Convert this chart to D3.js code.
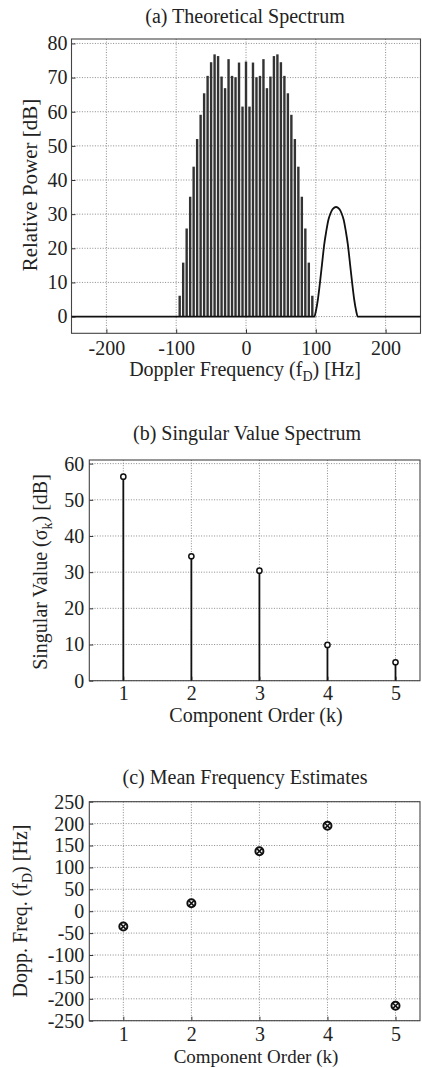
<!DOCTYPE html>
<html>
<head>
<meta charset="utf-8">
<script src="https://cdn.jsdelivr.net/npm/d3@7"></script>
<style>
  body { margin: 0; background: #fff; }
  text { font-family: "Liberation Serif", "Times New Roman", serif; fill: #222; }
</style>
</head>
<body>
<div id="canvas"></div>
<script>
"use strict"

/* DATA */
// (a) line spectrum, 5 Hz spacing
let specFreq = [-95, -90, -85, -80, -75, -70, -65, -60, -55, -50, -45, -40, -35, -30, -25, -20, -15, -10, -5, 0,
  5, 10, 15, 20, 25, 30, 35, 40, 45, 50, 55, 60, 65, 70, 75, 80, 85, 90, 95];
let specPower = [6.1, 15.8, 25.8, 35.1, 43.9, 52.0, 59.1, 65.4, 70.5, 74.5, 76.8, 76.3, 70.3, 66.9, 75.4, 70.5, 70.1, 74.4, 61.5, 74.7,
  61.5, 74.4, 70.1, 70.5, 75.4, 66.9, 70.3, 76.3, 76.8, 74.5, 70.5, 65.4, 59.1, 52.0, 43.9, 35.1, 25.8, 15.8, 6.1];
// (a) continuous clutter bump
let curveFreq = [-250, 98, 100, 103, 106, 109, 112, 115, 118, 121, 124, 127, 129, 131, 134, 137, 140, 143, 146, 149, 152, 155, 158, 160, 250];
let curvePower = [0, 0, 1.5, 5, 10, 15.5, 21, 25, 28.3, 30.2, 31.4, 32, 32.1, 32, 31.4, 30.2, 28.3, 25, 21, 15.5, 10, 5, 1.5, 0, 0];
let specTicksX = [-200, -100, 0, 100, 200];
let specTicksY = [0, 10, 20, 30, 40, 50, 60, 70, 80];

// (b) singular values
let svOrder = [1, 2, 3, 4, 5];
let svValue = [56.4, 34.4, 30.4, 9.9, 5.1];
let svTicksY = [0, 10, 20, 30, 40, 50, 60];

// (c) mean frequency estimates
let mfOrder = [1, 2, 3, 4, 5];
let mfValue = [-35, 18, 137, 195, -216];
let mfTicksY = [250, 200, 150, 100, 50, 0, -50, -100, -150, -200, -250];

/* DRAWING */
let svgWidth = 422;
let svgHeight = 1068;
let fontSize = 20;

let svg = d3.select("#canvas")
  .append("svg")
  .attr("width", svgWidth)
  .attr("height", svgHeight);

// draws frame, grid and axes for one panel
function drawFrame(x, y, xTicks, yTicks, padX, padY, tickFont) {
  let [x0, x1] = x.range();
  let [y0, y1] = y.range(); // y0 bottom, y1 top

  // dotted grid
  svg.append("g").selectAll("line")
    .data(xTicks)
    .join("line")
    .attr("x1", d => x(d)).attr("x2", d => x(d))
    .attr("y1", y1).attr("y2", y0)
    .attr("stroke", "#8a8a8a")
    .attr("stroke-dasharray", "1,1.6");
  svg.append("g").selectAll("line")
    .data(yTicks)
    .join("line")
    .attr("x1", x0).attr("x2", x1)
    .attr("y1", d => y(d)).attr("y2", d => y(d))
    .attr("stroke", "#8a8a8a")
    .attr("stroke-dasharray", "1,1.6");

  let xAxis = svg.append("g")
    .attr("transform", "translate(0," + y0 + ")")
    .call(d3.axisBottom(x).tickValues(xTicks).tickSize(-4).tickSizeOuter(0).tickPadding(padX)
      .tickFormat(d3.format("d")));
  let yAxis = svg.append("g")
    .attr("transform", "translate(" + x0 + ",0)")
    .call(d3.axisLeft(y).tickValues(yTicks).tickSize(-4).tickSizeOuter(0).tickPadding(padY)
      .tickFormat(d3.format("d")));

  for (let a of [xAxis, yAxis]) {
    a.attr("font-family", null).attr("font-size", null);
    a.selectAll(".domain").remove();
    a.selectAll(".tick line").attr("stroke", "#333");
    a.selectAll("text")
      .style("font-size", (tickFont || fontSize) + "px")
      .attr("fill", "#222")
      .text(d => String(d).replace("\u2212", "-"));
  }

  // box
  svg.append("rect")
    .attr("x", x0).attr("y", y1)
    .attr("width", x1 - x0).attr("height", y0 - y1)
    .attr("fill", "none")
    .attr("stroke", "#444")
    .attr("stroke-width", 1.1);
}

function title(txt, cx, by) {
  svg.append("text")
    .attr("x", cx).attr("y", by)
    .style("text-anchor", "middle")
    .style("font-size", fontSize + "px")
    .text(txt);
}

// label with a subscript: parts = [before, sub, after]
function label(parts, cx, by, rotate, size) {
  let t = svg.append("text")
    .attr("x", rotate ? -by : cx)
    .attr("y", rotate ? cx : by)
    .style("text-anchor", "middle")
    .style("font-size", (size || fontSize) + "px");
  if (rotate) t.attr("transform", "rotate(-90)");
  t.append("tspan").text(parts[0]);
  if (parts.length > 1) {
    t.append("tspan").attr("dy", 5).style("font-size", "14px").text(parts[1]);
    t.append("tspan").attr("dy", -5).text(parts[2]);
  }
}

/* (a) Theoretical Spectrum */
let xA = d3.scaleLinear().domain([-250, 250]).range([71.5, 420.5]);
let yA = d3.scaleLinear().domain([-4.9, 81.3]).range([333.3, 39]);

title("(a) Theoretical Spectrum", 245, 23);
drawFrame(xA, yA, specTicksX, specTicksY, 8, 4);

svg.append("g").selectAll("rect")
  .data(specFreq)
  .join("rect")
  .attr("x", d => xA(d) - 1.2)
  .attr("width", 2.4)
  .attr("y", (d, i) => yA(specPower[i]))
  .attr("height", (d, i) => yA(0) - yA(specPower[i]))
  .attr("fill", "#333");

let curve = d3.line()
  .x(d => xA(d))
  .y((d, i) => yA(curvePower[i]))
  .curve(d3.curveMonotoneX);

svg.append("path")
  .attr("d", curve(curveFreq))
  .attr("fill", "none")
  .attr("stroke", "#111")
  .attr("stroke-width", 1.8);

label(["Doppler Frequency (f", "D", ") [Hz]"], 245, 375.5, false);
label(["Relative Power [dB]"], 37, 185, true, 21);

/* (b) Singular Value Spectrum */
let xB = d3.scaleLinear().domain([0.5, 5.36]).range([89.3, 420]);
let yB = d3.scaleLinear().domain([0, 61]).range([680.7, 460]);

title("(b) Singular Value Spectrum", 247, 440);
drawFrame(xB, yB, svOrder, svTicksY, 5, 5);

svg.append("g").selectAll("line")
  .data(svOrder)
  .join("line")
  .attr("x1", d => xB(d)).attr("x2", d => xB(d))
  .attr("y1", yB(0))
  .attr("y2", (d, i) => yB(svValue[i]))
  .attr("stroke", "#111")
  .attr("stroke-width", 1.8);

svg.append("g").selectAll("circle")
  .data(svOrder)
  .join("circle")
  .attr("cx", d => xB(d))
  .attr("cy", (d, i) => yB(svValue[i]))
  .attr("r", 2.6)
  .attr("fill", "#fff")
  .attr("stroke", "#111")
  .attr("stroke-width", 1.5);

label(["Component Order (k)"], 256, 722, false);
label(["Singular Value (\u03c3", "k", ") [dB]"], 47, 572, true);

/* (c) Mean Frequency Estimates */
let xC = d3.scaleLinear().domain([0.5, 5.36]).range([89.3, 420]);
let yC = d3.scaleLinear().domain([-250, 250]).range([1020.7, 801.7]);

title("(c) Mean Frequency Estimates", 245, 784);
drawFrame(xC, yC, mfOrder, mfTicksY, 6, 5);

let marks = svg.append("g").selectAll("g")
  .data(mfOrder)
  .join("g")
  .attr("transform", (d, i) => "translate(" + xC(d) + "," + yC(mfValue[i]) + ")");

marks.append("circle")
  .attr("r", 4)
  .attr("fill", "#fff")
  .attr("stroke", "#111")
  .attr("stroke-width", 2);
marks.append("path")
  .attr("d", "M-2.8,-2.8L2.8,2.8M-2.8,2.8L2.8,-2.8")
  .attr("stroke", "#111")
  .attr("stroke-width", 1.6);

label(["Component Order (k)"], 256, 1062.5, false, 19);
label(["Dopp. Freq. (f", "D", ") [Hz]"], 27, 911, true);
</script>
</body>
</html>
